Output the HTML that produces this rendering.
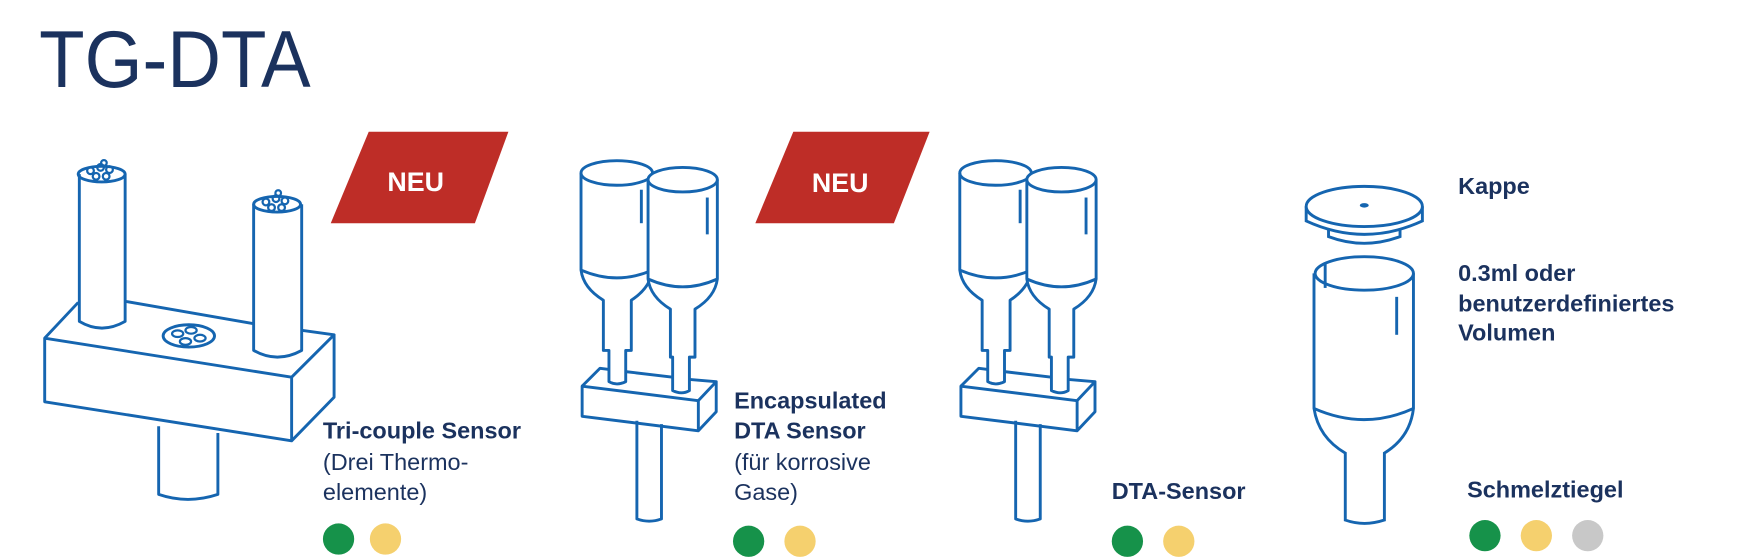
<!DOCTYPE html>
<html><head><meta charset="utf-8"><style>
html,body{margin:0;padding:0;background:#fff;}
svg{display:block}
</style></head><body>
<svg width="1752" height="558" viewBox="0 0 1568 500" preserveAspectRatio="none" xmlns="http://www.w3.org/2000/svg">
<defs>
<g id="dual" fill="none" stroke="#1565b0" stroke-width="2.6" stroke-linejoin="round">
  <!-- left cup -->
  <path d="M520,155 L520,242 Q522,258 540,269 L540,314 L545,314 L545,342 Q552,346 560,342 L560,314 L565,314 L565,269 Q582,258 584,242 L584,155"/>
  <ellipse cx="552" cy="155" rx="32" ry="11"/>
  <path d="M520,242 Q552,256 584,242"/>
  <line x1="574" y1="170" x2="574" y2="200"/>
  <!-- right cup -->
  <path d="M580,161 L580,250 Q582,266 600,277 L600,320 L602,320 L602,350 Q610,354 617,350 L617,320 L622,320 L622,277 Q640,266 642,250 L642,161" fill="#fff"/>
  <ellipse cx="611" cy="161" rx="31" ry="11" fill="#fff"/>
  <path d="M580,250 Q611,264 642,250"/>
  <line x1="633" y1="177" x2="633" y2="210"/>
  <!-- block -->
  <path d="M521,346 L537,330 L545,331"/>
  <path d="M560,333 L602,338"/>
  <path d="M617,340 L641,342 L625,359 L521,346 L521,373 L625,386 L641,369 L641,342"/>
  <path d="M625,359 L625,386"/>
  <path d="M570,377 L570,465 Q581,469 592,465 L592,380"/>
</g>
</defs>
<text x="35" y="78" textLength="243" lengthAdjust="spacingAndGlyphs" font-family="Liberation Sans, sans-serif" font-size="72" fill="#1b325e">TG-DTA</text>

<!-- badges -->
<polygon points="296,200 330,118 455,118 425,200" fill="#be2d27"/>
<text x="372" y="171" text-anchor="middle" font-family="Liberation Sans, sans-serif" font-weight="bold" font-size="24" fill="#fff">NEU</text>
<polygon points="676,200 710,118 832,118 800,200" fill="#be2d27"/>
<text x="752" y="172" text-anchor="middle" font-family="Liberation Sans, sans-serif" font-weight="bold" font-size="24" fill="#fff">NEU</text>

<!-- tri-couple -->
<g fill="none" stroke="#1565b0" stroke-width="2.6" stroke-linejoin="round">
  <path d="M40,303 L261,338 L299,300 L270,296 M227,290 L112,270 M70,271 L40,303 L40,360 L261,395 L299,356 L299,300 M261,338 L261,395"/>
  <path d="M142,382 L142,443 Q168,452 195,443 L195,388"/>
  <path d="M71,156 L71,288 Q91,300 112,288 L112,156"/>
  <ellipse cx="91" cy="156" rx="21" ry="7"/>
  <path d="M227,183 L227,314 Q248,326 270,314 L270,183"/>
  <ellipse cx="248" cy="183" rx="21" ry="7"/>
  <ellipse cx="169" cy="301" rx="23" ry="10"/>
  <g stroke-width="2">
    <circle cx="81" cy="153" r="3"/><circle cx="90" cy="150" r="3"/><circle cx="98" cy="152" r="3"/><circle cx="86" cy="158" r="3"/><circle cx="95" cy="158" r="3"/><circle cx="93" cy="146" r="2.5"/>
    <circle cx="238" cy="181" r="3"/><circle cx="247" cy="178" r="3"/><circle cx="255" cy="180" r="3"/><circle cx="243" cy="186" r="3"/><circle cx="252" cy="186" r="3"/><circle cx="249" cy="173" r="2.5"/>
    <ellipse cx="159" cy="299" rx="5" ry="3"/><ellipse cx="171" cy="296" rx="5" ry="3"/><ellipse cx="179" cy="303" rx="5" ry="3"/><ellipse cx="166" cy="306" rx="5" ry="3"/>
  </g>
</g>

<use href="#dual"/>
<use href="#dual" transform="translate(339,0)"/>

<!-- crucible -->
<g fill="none" stroke="#1565b0" stroke-width="2.6">
  <path d="M1189,206 L1189,212 Q1221,224 1253,212 L1253,206"/>
  <path d="M1169,185 L1169,198 Q1221,222 1273,198 L1273,185"/>
  <ellipse cx="1221" cy="185" rx="52" ry="18" fill="#fff"/>
  <ellipse cx="1221" cy="184" rx="4" ry="2" fill="#1565b0" stroke="none"/>
  <path d="M1176,245 L1176,366 Q1180,392 1204,406 L1204,466 Q1221,472 1239,466 L1239,406 Q1262,392 1265,366 L1265,245"/>
  <ellipse cx="1221" cy="245" rx="44" ry="15"/>
  <path d="M1176,366 Q1221,386 1265,366"/>
  <line x1="1186" y1="235" x2="1186" y2="258"/>
  <line x1="1250" y1="266" x2="1250" y2="300"/>
</g>

<g font-family="Liberation Sans, sans-serif" fill="#1b325e" font-size="21">
  <text x="289" y="393" font-weight="bold">Tri-couple Sensor</text>
  <text x="289" y="421">(Drei Thermo-</text>
  <text x="289" y="448">elemente)</text>
  <text x="657" y="366" font-weight="bold">Encapsulated</text>
  <text x="657" y="393" font-weight="bold">DTA Sensor</text>
  <text x="657" y="421">(für korrosive</text>
  <text x="657" y="448">Gase)</text>
  <text x="995" y="447" font-weight="bold">DTA-Sensor</text>
  <text x="1305" y="174" font-weight="bold">Kappe</text>
  <text x="1305" y="252" font-weight="bold">0.3ml oder</text>
  <text x="1305" y="279" font-weight="bold">benutzerdefiniertes</text>
  <text x="1305" y="305" font-weight="bold">Volumen</text>
  <text x="1313" y="446" font-weight="bold">Schmelztiegel</text>
</g>

<g>
  <ellipse cx="303" cy="483" rx="14" ry="14" fill="#16924a"/>
  <ellipse cx="345" cy="483" rx="14" ry="14" fill="#f5d06e"/>
  <ellipse cx="670" cy="485" rx="14" ry="14" fill="#16924a"/>
  <ellipse cx="716" cy="485" rx="14" ry="14" fill="#f5d06e"/>
  <ellipse cx="1009" cy="485" rx="14" ry="14" fill="#16924a"/>
  <ellipse cx="1055" cy="485" rx="14" ry="14" fill="#f5d06e"/>
  <ellipse cx="1329" cy="480" rx="14" ry="14" fill="#16924a"/>
  <ellipse cx="1375" cy="480" rx="14" ry="14" fill="#f5d06e"/>
  <ellipse cx="1421" cy="480" rx="14" ry="14" fill="#c8c8c8"/>
</g>
</svg>
</body></html>
